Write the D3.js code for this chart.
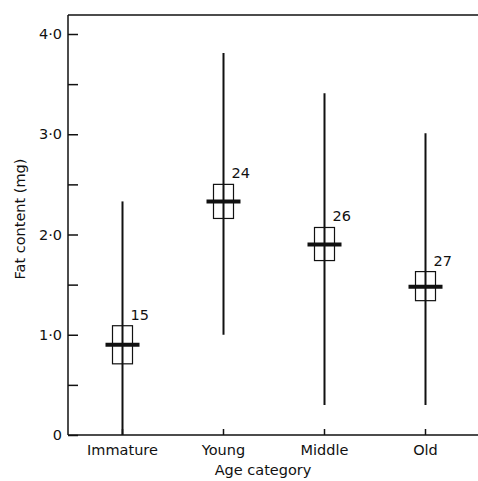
<!DOCTYPE html>
<html>
<head>
<meta charset="utf-8">
<script src="https://cdn.jsdelivr.net/npm/d3@7"></script>
<style>
  body { margin: 0; background: #fff; }
  svg text { font-family: "DejaVu Sans", sans-serif; fill: #111; }
</style>
</head>
<body>
<div id="chart"></div>
<script>
// values
var categories = ["Immature", "Young", "Middle", "Old"];
var means = [0.90, 2.33, 1.90, 1.48];
var seLow = [0.71, 2.16, 1.74, 1.34];
var seHigh = [1.09, 2.50, 2.07, 1.63];
var rangeMin = [0, 1.0, 0.3, 0.3];
var rangeMax = [2.33, 3.81, 3.41, 3.01];
var counts = [15, 24, 26, 27];
var yTicks = [0, 0.5, 1, 1.5, 2, 2.5, 3, 3.5, 4];
var yTickLabels = {0: "0", 1: "1·0", 2: "2·0", 3: "3·0", 4: "4·0"};

var width = 478, height = 481;
var axisLeft = 68, axisBottom = 435, axisTop = 15;

var svg = d3.select("#chart").append("svg")
    .attr("width", width)
    .attr("height", height);

var x = d3.scaleBand()
    .domain(categories)
    .range([72, 476]);

var y = d3.scaleLinear()
    .domain([0, 4])
    .range([axisBottom, 34]);

var data = categories.map(function(c, i) {
    return {cat: c, mean: means[i], lo: seLow[i], hi: seHigh[i],
            min: rangeMin[i], max: rangeMax[i], n: counts[i]};
});

var cx = function(d) { return x(d.cat) + x.bandwidth() / 2; };

// frame: left, bottom and top lines
svg.append("line")
    .attr("x1", axisLeft).attr("x2", axisLeft)
    .attr("y1", axisTop).attr("y2", axisBottom)
    .style("stroke", "#111").style("stroke-width", 1.5);
svg.append("line")
    .attr("x1", axisLeft).attr("x2", width)
    .attr("y1", axisBottom).attr("y2", axisBottom)
    .style("stroke", "#111").style("stroke-width", 1.5);
svg.append("line")
    .attr("x1", axisLeft).attr("x2", width)
    .attr("y1", axisTop).attr("y2", axisTop)
    .style("stroke", "#111").style("stroke-width", 1.5);

// y axis, ticks pointing inwards
var yAxis = svg.append("g")
    .attr("transform", "translate(" + axisLeft + ",0)")
    .call(d3.axisRight(y)
        .tickValues(yTicks)
        .tickSize(10)
        .tickFormat(function() { return ""; }));
yAxis.select(".domain").remove();
yAxis.selectAll("line").style("stroke", "#111").style("stroke-width", 1.5);

svg.selectAll(".ylab")
    .data(yTicks.filter(function(t) { return yTickLabels[t] !== undefined; }))
    .enter()
    .append("text")
    .attr("class", "ylab")
    .attr("x", 62)
    .attr("y", function(t) { return y(t); })
    .attr("dy", "0.36em")
    .attr("text-anchor", "end")
    .style("font-size", "14.5px")
    .text(function(t) { return yTickLabels[t]; });

// x axis, short ticks pointing up
var xAxis = svg.append("g")
    .attr("transform", "translate(0," + axisBottom + ")")
    .call(d3.axisTop(x).tickSize(6).tickFormat(function() { return ""; }));
xAxis.select(".domain").remove();
xAxis.selectAll("line").style("stroke", "#111").style("stroke-width", 1.5);

svg.selectAll(".xlab")
    .data(categories)
    .enter()
    .append("text")
    .attr("class", "xlab")
    .attr("x", function(c) { return x(c) + x.bandwidth() / 2; })
    .attr("y", 455)
    .attr("text-anchor", "middle")
    .style("font-size", "14.5px")
    .text(function(c) { return c; });

svg.append("text")
    .attr("x", 263)
    .attr("y", 475)
    .attr("text-anchor", "middle")
    .style("font-size", "14.5px")
    .text("Age category");

svg.append("text")
    .attr("transform", "translate(25,219) rotate(-90)")
    .attr("text-anchor", "middle")
    .style("font-size", "14.5px")
    .text("Fat content (mg)");

var groups = svg.selectAll(".grp")
    .data(data)
    .enter()
    .append("g")
    .attr("class", "grp");

// range lines
groups.append("line")
    .attr("x1", cx).attr("x2", cx)
    .attr("y1", function(d) { return y(d.min); })
    .attr("y2", function(d) { return y(d.max); })
    .style("stroke", "#111")
    .style("stroke-width", 2);

// standard error boxes
groups.append("rect")
    .attr("x", function(d) { return cx(d) - 10; })
    .attr("y", function(d) { return y(d.hi); })
    .attr("width", 20)
    .attr("height", function(d) { return y(d.lo) - y(d.hi); })
    .style("fill", "none")
    .style("stroke", "#111")
    .style("stroke-width", 1.2);

// mean bars
groups.append("line")
    .attr("x1", function(d) { return cx(d) - 17; })
    .attr("x2", function(d) { return cx(d) + 17; })
    .attr("y1", function(d) { return y(d.mean); })
    .attr("y2", function(d) { return y(d.mean); })
    .style("stroke", "#111")
    .style("stroke-width", 4);

// sample sizes
groups.append("text")
    .attr("x", function(d) { return cx(d) + 8; })
    .attr("y", function(d) { return y(d.hi) - 6; })
    .style("font-size", "14.5px")
    .text(function(d) { return d.n; });
</script>
</body>
</html>
